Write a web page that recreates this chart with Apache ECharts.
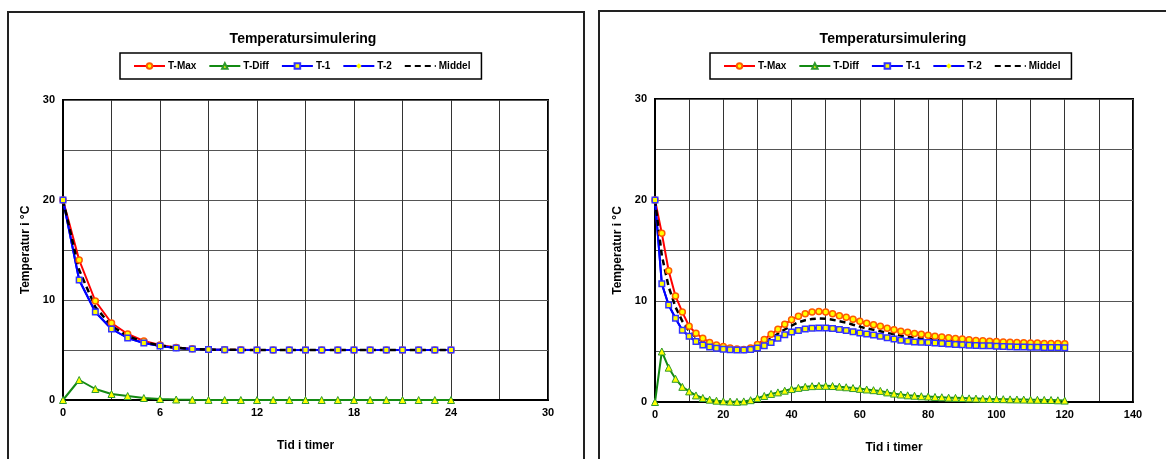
<!DOCTYPE html>
<html>
<head>
<meta charset="utf-8">
<title>Temperatursimulering</title>
<script src="https://cdn.jsdelivr.net/npm/echarts@6/dist/echarts.min.js"></script>
<style>
  body { margin: 0; background: #fff; width: 1166px; height: 459px; overflow: hidden; position: relative; }
  .frame { position: absolute; border: 2px solid #222; }
  #frameA { left: 7px; top: 11px; width: 574px; height: 470px; }
  #frameB { left: 598px; top: 10px; width: 600px; height: 470px; }
  #chartA { position: absolute; left: 0; top: 0; width: 595px; height: 459px; }
  #chartB { position: absolute; left: 595px; top: 0; width: 571px; height: 459px; }
</style>
</head>
<body>
<div class="frame" id="frameA"></div>
<div class="frame" id="frameB"></div>
<div id="chartA"></div>
<div id="chartB"></div>
<script>
// --- 24 hour run (left chart), one point per hour ---
const hoursA = [0, 1, 2, 3, 4, 5, 6, 7, 8, 9, 10, 11, 12, 13, 14, 15, 16, 17, 18, 19, 20, 21, 22, 23, 24];
const tMaxA = [20, 14.0, 9.9, 7.7, 6.6, 5.9, 5.5, 5.25, 5.12, 5.06, 5.03, 5.02, 5.01, 5, 5, 5, 5, 5, 5, 5, 5, 5, 5, 5, 5];
const tDiffA = [0, 2.0, 1.1, 0.6, 0.4, 0.2, 0.1, 0.05, 0.02, 0.01, 0, 0, 0, 0, 0, 0, 0, 0, 0, 0, 0, 0, 0, 0, 0];
const t1A = [20, 12.0, 8.8, 7.1, 6.2, 5.7, 5.4, 5.2, 5.1, 5.05, 5.02, 5.01, 5, 5, 5, 5, 5, 5, 5, 5, 5, 5, 5, 5, 5];
const t2A = [20, 12.0, 8.8, 7.1, 6.2, 5.7, 5.4, 5.2, 5.1, 5.05, 5.02, 5.01, 5, 5, 5, 5, 5, 5, 5, 5, 5, 5, 5, 5, 5];
const middelA = [20, 13.0, 9.3, 7.4, 6.4, 5.8, 5.45, 5.22, 5.11, 5.05, 5.02, 5.01, 5, 5, 5, 5, 5, 5, 5, 5, 5, 5, 5, 5, 5];

// --- 120 hour run (right chart), one point every 2 hours ---
const hoursB = [0, 2, 4, 6, 8, 10, 12, 14, 16, 18, 20, 22, 24, 26, 28, 30, 32, 34, 36, 38, 40,
  42, 44, 46, 48, 50, 52, 54, 56, 58, 60, 62, 64, 66, 68, 70, 72, 74, 76, 78, 80,
  82, 84, 86, 88, 90, 92, 94, 96, 98, 100, 102, 104, 106, 108, 110, 112, 114, 116, 118, 120];
const tMaxB = [20, 16.7, 13.0, 10.5, 8.9, 7.5, 6.8, 6.3, 5.9, 5.65, 5.5,
  5.35, 5.25, 5.2, 5.35, 5.7, 6.2, 6.7, 7.2, 7.7, 8.15,
  8.5, 8.75, 8.9, 8.95, 8.9, 8.75, 8.55, 8.4, 8.2, 8.0,
  7.8, 7.65, 7.5, 7.3, 7.15, 7.0, 6.9, 6.78, 6.7, 6.6,
  6.5, 6.43, 6.35, 6.28, 6.23, 6.17, 6.1, 6.07, 6.02, 6.0,
  5.95, 5.92, 5.9, 5.86, 5.84, 5.83, 5.8, 5.8, 5.78, 5.77];
const tDiffB = [0, 5.0, 3.4, 2.3, 1.5, 1.05, 0.65, 0.4, 0.23, 0.13, 0.07,
  0.04, 0.02, 0.06, 0.18, 0.38, 0.6, 0.8, 0.95, 1.12, 1.28,
  1.4, 1.5, 1.57, 1.6, 1.6, 1.58, 1.52, 1.46, 1.38, 1.3,
  1.24, 1.17, 1.1, 0.95, 0.83, 0.74, 0.66, 0.62, 0.57, 0.54,
  0.5, 0.47, 0.43, 0.41, 0.39, 0.36, 0.34, 0.32, 0.3, 0.29,
  0.28, 0.26, 0.25, 0.24, 0.23, 0.22, 0.21, 0.2, 0.17, 0.14];
const t1B = [20, 11.7, 9.6, 8.3, 7.1, 6.5, 6.0, 5.65, 5.45, 5.32, 5.22,
  5.17, 5.14, 5.15, 5.2, 5.35, 5.57, 5.9, 6.3, 6.65, 6.92,
  7.08, 7.22, 7.29, 7.33, 7.33, 7.27, 7.17, 7.07, 6.95, 6.84,
  6.74, 6.63, 6.5, 6.36, 6.24, 6.12, 6.02, 5.95, 5.92, 5.88,
  5.83, 5.78, 5.74, 5.69, 5.66, 5.63, 5.6, 5.58, 5.56, 5.52,
  5.5, 5.47, 5.45, 5.44, 5.43, 5.41, 5.4, 5.4, 5.39, 5.37];
const t2B = [20, 11.7, 9.6, 8.3, 7.1, 6.5, 6.0, 5.65, 5.45, 5.32, 5.22,
  5.17, 5.14, 5.15, 5.2, 5.35, 5.57, 5.9, 6.3, 6.65, 6.92,
  7.08, 7.22, 7.29, 7.33, 7.33, 7.27, 7.17, 7.07, 6.95, 6.84,
  6.74, 6.63, 6.5, 6.36, 6.24, 6.12, 6.02, 5.95, 5.92, 5.88,
  5.83, 5.78, 5.74, 5.69, 5.66, 5.63, 5.6, 5.58, 5.56, 5.52,
  5.5, 5.47, 5.45, 5.44, 5.43, 5.41, 5.4, 5.4, 5.39, 5.37];
const middelB = [20, 14.5, 11.4, 9.4, 8.0, 7.0, 6.4, 6.0, 5.68, 5.48, 5.36,
  5.26, 5.2, 5.18, 5.28, 5.52, 5.9, 6.3, 6.76, 7.18, 7.55,
  7.9, 8.1, 8.22, 8.27, 8.25, 8.15, 8.0, 7.86, 7.65, 7.46,
  7.28, 7.15, 7.0, 6.84, 6.7, 6.57, 6.47, 6.38, 6.32, 6.25,
  6.17, 6.11, 6.05, 5.99, 5.95, 5.9, 5.85, 5.83, 5.79, 5.76,
  5.73, 5.7, 5.68, 5.65, 5.64, 5.62, 5.6, 5.6, 5.58, 5.57];

const FONT = '"Liberation Sans", Arial, sans-serif';

function pairs(xs, ys) {
  return xs.map((x, i) => [x, ys[i]]);
}

function buildOption(cfg) {
  const lbl = { fontFamily: FONT, fontWeight: 'bold', fontSize: 11, color: '#000' };
  return {
    animation: false,
    title: {
      text: 'Temperatursimulering',
      left: cfg.titleX,
      top: 27,
      textAlign: 'center',
      textStyle: { fontFamily: FONT, fontWeight: 'bold', fontSize: 14, color: '#000' }
    },
    legend: {
      left: cfg.legendX,
      top: 53,
      orient: 'horizontal',
      itemWidth: 31,
      itemHeight: 7,
      itemGap: 12,
      padding: [8, 11, 8, 13],
      borderColor: '#000',
      borderWidth: 1.5,
      textStyle: { fontFamily: FONT, fontWeight: 'bold', fontSize: 10, color: '#000', padding: [0, 0, 0, -2] },
      data: ['T-Max', 'T-Diff', 'T-1', 'T-2',
        { name: 'Middel', itemStyle: { color: 'rgba(0,0,0,0)', borderWidth: 0 } }]
    },
    grid: {
      left: cfg.grid[0], right: cfg.grid[1], top: cfg.grid[2], bottom: cfg.grid[3],
      show: true, borderColor: '#000', borderWidth: 2, containLabel: false
    },
    xAxis: {
      type: 'value',
      min: 0, max: cfg.xMax, interval: cfg.xStep,
      name: 'Tid i timer',
      nameLocation: 'middle',
      nameGap: 40,
      nameTextStyle: Object.assign({}, lbl, { fontSize: 12 }),
      axisLine: { show: true, lineStyle: { color: '#000', width: 2 } },
      axisTick: { show: false },
      axisLabel: Object.assign({}, lbl, {
        margin: 7,
        formatter: v => (v % cfg.xLabelStep === 0 ? String(v) : '')
      }),
      splitLine: { show: true, lineStyle: { color: '#333', width: 1 } }
    },
    yAxis: {
      type: 'value',
      min: 0, max: 30, interval: 5,
      name: 'Temperatur i °C',
      nameLocation: 'middle',
      nameGap: 19,
      nameTextStyle: Object.assign({}, lbl, { fontSize: 12 }),
      axisLine: { show: true, lineStyle: { color: '#000', width: 2 } },
      axisTick: { show: false },
      axisLabel: Object.assign({}, lbl, {
        margin: 8,
        formatter: v => (v % 10 === 0 ? String(v) : '')
      }),
      splitLine: { show: true, lineStyle: { color: '#555', width: 1 } }
    },
    series: [
      {
        name: 'T-Max', type: 'line', data: pairs(cfg.hours, cfg.tMax),
        symbol: 'circle', symbolSize: cfg.mk,
        lineStyle: { color: '#ff0000', width: 2 },
        itemStyle: { color: '#ffff00', borderColor: '#ff5a00', borderWidth: 1.5 }
      },
      {
        name: 'T-Diff', type: 'line', data: pairs(cfg.hours, cfg.tDiff),
        symbol: 'triangle', symbolSize: cfg.mk + 1,
        lineStyle: { color: '#138a13', width: 2 },
        itemStyle: { color: '#ffff00', borderColor: '#2e9a2e', borderWidth: 1 }
      },
      {
        name: 'T-1', type: 'line', data: pairs(cfg.hours, cfg.t1),
        symbol: 'rect', symbolSize: cfg.mk - 0.5,
        lineStyle: { color: '#0000ff', width: 2 },
        itemStyle: { color: '#ffff00', borderColor: '#3333ff', borderWidth: 1.5 }
      },
      {
        name: 'T-2', type: 'line', data: pairs(cfg.hours, cfg.t2),
        symbol: 'diamond', symbolSize: 4,
        lineStyle: { color: '#0000ff', width: 2 },
        itemStyle: { color: '#ffff00', borderWidth: 0 }
      },
      {
        name: 'Middel', type: 'line', data: pairs(cfg.hours, cfg.middel),
        symbol: 'none',
        lineStyle: { color: '#000', width: 2.5, type: [6, 4] },
        itemStyle: { color: '#000' }
      }
    ]
  };
}

const chartA = echarts.init(document.getElementById('chartA'), null, { renderer: 'canvas' });
chartA.setOption(buildOption({
  titleX: 298, legendX: 120,
  grid: [63, 47, 100, 59],
  xMax: 30, xStep: 3, xLabelStep: 6, mk: 6,
  hours: hoursA, tMax: tMaxA, tDiff: tDiffA, t1: t1A, t2: t2A, middel: middelA
}));

const chartB = echarts.init(document.getElementById('chartB'), null, { renderer: 'canvas' });
chartB.setOption(buildOption({
  titleX: 293, legendX: 115,
  grid: [60, 33, 99, 57],
  xMax: 140, xStep: 10, xLabelStep: 20, mk: 6,
  hours: hoursB, tMax: tMaxB, tDiff: tDiffB, t1: t1B, t2: t2B, middel: middelB
}));
</script>
</body>
</html>
